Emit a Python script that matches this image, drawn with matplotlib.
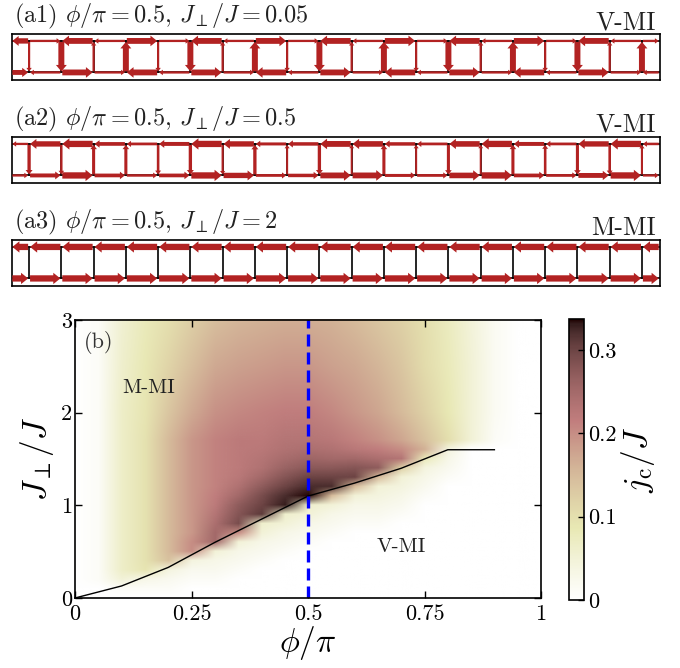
import numpy as np
import matplotlib
matplotlib.use('Agg')
import matplotlib.pyplot as plt
from matplotlib.patches import FancyArrow
from matplotlib.image import NonUniformImage

plt.rcParams['font.family'] = 'cmr10'
plt.rcParams['mathtext.fontset'] = 'cm'
plt.rcParams['axes.formatter.use_mathtext'] = True
plt.rcParams['axes.unicode_minus'] = False

# ---- ladder currents: legs = [left edge, bonds 0..18, right edge], rungs 0..19 (+ = up)
a1_top = [-0.8, 0.15, -0.9, -0.15, 0.9, 0.15, -0.9, -0.15, 0.9, 0.15, -0.9,
          -0.15, 0.9, 0.15, -0.9, -0.15, 0.9, 0.15, -0.9, -0.15, 0.15]
a1_bot = [0.7, -0.15, 0.9, 0.15, -0.9, -0.15, 0.9, 0.15, -0.9, -0.15, 0.9,
          0.15, -0.9, -0.15, 0.9, 0.15, -0.9, -0.15, 0.9, 0.15, -0.15]
a1_rung = [-0.12, -0.9, 0.12, 0.9, -0.12, -0.9, 0.12, 0.9, -0.12, -0.9,
           0.12, 0.9, -0.12, -0.9, 0.12, 0.9, -0.12, -0.9, 0.12, 0.9]

a2_top = [-0.15, -0.8, -1.0, -0.45, -0.25, -0.5, -1.0, -0.8, -0.3, -0.4, -0.9,
          -0.85, -0.4, -0.25, -0.85, -1.0, -0.5, -0.25, -0.8, -1.0, -0.2]
a2_bot = [0.15, 0.5, 1.0, 0.45, 0.2, 0.45, 1.0, 0.8, 0.25, 0.4, 0.9,
          0.9, 0.3, 0.25, 0.85, 1.0, 0.45, 0.25, 0.7, 1.0, 0.15]
a2_rung = [-0.35, -0.15, 0.3, 0.3, -0.2, -0.35, -0.1, 0.35, 0.08, -0.35,
           0.05, 0.3, 0.08, -0.3, 0.05, 0.3, 0.2, -0.3, -0.2, 0.1]

a3_top = [-1.0] * 21
a3_bot = [1.0] * 21
a3_rung = [0.0] * 20

panels = [
    (r'(a1) $\phi/\pi=0.5$, $J_\perp/J=0.05$', 'V-MI', a1_top, a1_bot, a1_rung),
    (r'(a2) $\phi/\pi=0.5$, $J_\perp/J=0.5$', 'V-MI', a2_top, a2_bot, a2_rung),
    (r'(a3) $\phi/\pi=0.5$, $J_\perp/J=2$', 'M-MI', a3_top, a3_bot, a3_rung),
]

# ---- phase diagram j_c/J on (phi/pi, J_perp/J) grid
phi = [0, 0.05, 0.1, 0.15, 0.2, 0.25, 0.3, 0.35, 0.4, 0.45, 0.5,
       0.55, 0.6, 0.65, 0.7, 0.75, 0.8, 0.85, 0.9, 0.95, 1.0]
jperp = [0, 0.1, 0.2, 0.3, 0.4, 0.5, 0.6, 0.7, 0.8, 0.9, 1.0,
         1.1, 1.2, 1.3, 1.4, 1.5, 1.6, 1.7, 2.0, 2.5, 3.0]
jc = [
    [0, 0, 0, 0, 0, 0, 0, 0, 0, 0, 0, 0, 0, 0, 0, 0, 0, 0, 0, 0, 0],
    [0, 0, .01, .01, .01, 0, 0, 0, 0, 0, 0, 0, 0, 0, 0, 0, 0, 0, 0, 0, 0],
    [0, .01, .05, .03, .02, .01, .01, 0, 0, 0, 0, 0, 0, 0, 0, 0, 0, 0, 0, 0, 0],
    [0, .01, .065, .09, .04, .02, .02, .01, 0, 0, 0, 0, 0, 0, 0, 0, 0, 0, 0, 0, 0],
    [0, .01, .065, .095, .14, .04, .03, .02, .01, 0, 0, 0, 0, 0, 0, 0, 0, 0, 0, 0, 0],
    [0, .01, .065, .095, .15, .2, .05, .03, .02, .01, 0, 0, 0, 0, 0, 0, 0, 0, 0, 0, 0],
    [0, .01, .065, .095, .15, .2, .25, .05, .03, .02, .01, 0, 0, 0, 0, 0, 0, 0, 0, 0, 0],
    [0, .01, .065, .095, .15, .19, .25, .2, .05, .03, .02, .01, 0, 0, 0, 0, 0, 0, 0, 0, 0],
    [0, .01, .065, .095, .15, .19, .24, .29, .06, .05, .03, .02, .01, .01, 0, 0, 0, 0, 0, 0, 0],
    [0, .01, .065, .095, .15, .19, .23, .28, .31, .06, .05, .03, .02, .02, .01, 0, 0, 0, 0, 0, 0],
    [0, .01, .065, .095, .15, .19, .22, .27, .3, .33, .06, .05, .03, .03, .02, 0, 0, 0, 0, 0, 0],
    [0, .01, .065, .095, .15, .19, .215, .25, .29, .32, .335, .15, .05, .04, .03, .01, 0, 0, 0, 0, 0],
    [0, .01, .065, .095, .15, .19, .21, .235, .27, .3, .32, .32, .15, .05, .04, .02, 0, 0, 0, 0, 0],
    [0, .01, .065, .095, .15, .19, .21, .225, .25, .28, .3, .3, .3, .15, .05, .03, .01, 0, 0, 0, 0],
    [0, .01, .065, .095, .15, .19, .21, .22, .235, .26, .275, .275, .28, .27, .12, .04, .02, 0, 0, 0, 0],
    [0, .01, .065, .095, .15, .19, .21, .22, .23, .245, .255, .25, .25, .24, .23, .08, .03, 0, 0, 0, 0],
    [0, .01, .065, .095, .15, .19, .21, .22, .225, .235, .24, .235, .225, .215, .2, .16, .04, 0, 0, 0, 0],
    [0, .01, .065, .095, .15, .19, .21, .22, .22, .23, .23, .225, .21, .195, .175, .14, .1, .05, .01, 0, 0],
    [0, .01, .065, .09, .135, .17, .195, .205, .21, .215, .215, .205, .19, .175, .15, .12, .085, .05, .015, 0, 0],
    [0, .01, .06, .085, .115, .145, .17, .18, .185, .19, .19, .18, .17, .155, .135, .105, .08, .05, .015, 0, 0],
    [0, .01, .055, .08, .1, .125, .145, .155, .16, .165, .165, .16, .15, .135, .12, .1, .075, .045, .015, 0, 0],
]

# phase boundary
bnd_phi = [0, 0.1, 0.2, 0.3, 0.4, 0.5, 0.6, 0.7, 0.8, 0.9]
bnd_j = [0, 0.13, 0.33, 0.6, 0.85, 1.1, 1.24, 1.4, 1.6, 1.6]

W, H = 680, 668
fig = plt.figure(figsize=(W / 100, H / 100), dpi=100)


def px_axes(x0, y0, x1, y1):
    return fig.add_axes([x0 / W, 1 - y1 / H, (x1 - x0) / W, (y1 - y0) / H])


def arrow(ax, x0, y0, x1, y1, v):
    a = abs(v)
    if a < 0.02:
        return
    ax.add_patch(FancyArrow(x0, y0, x1 - x0, y1 - y0, width=0.05 + 0.15 * a,
                            head_width=0.14 + 0.22 * a, head_length=0.1 + 0.12 * a,
                            length_includes_head=True, color='firebrick', lw=0, zorder=3))


def draw_ladder(ax, top, bot, rung):
    n = len(rung)
    m = 0.03
    for y in (0, 1):
        ax.plot([-1, n], [y, y], color='k', lw=1.2, zorder=1)
    for k in range(n):
        ax.plot([k, k], [0, 1], color='k', lw=1.2, zorder=1)
    edges = [(-0.55, 0)] + [(k, k + 1) for k in range(n - 1)] + [(n - 1, n - 0.45)]
    for (xa, xb), vt, vb in zip(edges, top, bot):
        for y, v in ((1, vt), (0, vb)):
            if v > 0:
                arrow(ax, xa + m, y, xb - m, y, v)
            else:
                arrow(ax, xb - m, y, xa + m, y, v)
    for k, v in enumerate(rung):
        if v > 0:
            arrow(ax, k, m, k, 1 - m, v)
        else:
            arrow(ax, k, 1 - m, k, m, v)
    ax.set_xlim(-0.53, n - 0.44)
    ax.set_ylim(-0.24, 1.22)
    ax.set_xticks([])
    ax.set_yticks([])
    for s in ax.spines.values():
        s.set_linewidth(1.2)


box_tops = [34, 137, 240]
for (title, phase, top, bot, rung), yt in zip(panels, box_tops):
    ax = px_axes(12, yt, 660, yt + 46)
    draw_ladder(ax, top, bot, rung)
    fig.text(14 / W, 1 - (yt - 12) / H, title, fontsize=17.5, color='#222222', va='baseline')
    fig.text(656 / W, 1 - (yt - 5) / H, phase, fontsize=18.5, color='#222222',
             va='baseline', ha='right')

# ---- phase diagram
ax = px_axes(75, 320, 541, 598)
im = NonUniformImage(ax, interpolation='bilinear', extent=(0, 1, 0, 3), cmap='pink_r')
im.set_data(np.array(phi), np.array(jperp), np.array(jc))
im.set_clim(0, 0.337)
ax.add_image(im)
ax.plot(bnd_phi, bnd_j, color='k', lw=1.0)
ax.axvline(0.5, color='blue', lw=2.4, ls=(0, (3.6, 1.8)))
ax.set_xlim(0, 1)
ax.set_ylim(0, 3)
ax.set_xticks([0, 0.25, 0.5, 0.75, 1])
ax.set_xticklabels(['0', '0.25', '0.5', '0.75', '1'])
ax.set_yticks([0, 1, 2, 3])
ax.set_yticklabels(['0', '1', '2', '3'])
ax.tick_params(direction='in', top=True, right=True, length=5, width=1, labelsize=16)
ax.tick_params(axis='y', pad=2)
ax.tick_params(axis='x', pad=5)
for s in ax.spines.values():
    s.set_linewidth(1.2)
ax.set_xlabel(r'$\phi/\pi$', fontsize=24, labelpad=0)
ax.set_ylabel(r'$J_\perp/J$', fontsize=24, labelpad=4)
ax.text(0.05, 2.76, '(b)', fontsize=16, color='#333333', ha='center', va='center')
ax.text(0.157, 2.27, 'M-MI', fontsize=15, color='#222222', ha='center', va='center')
ax.text(0.70, 0.55, 'V-MI', fontsize=15, color='#222222', ha='center', va='center')

cax = px_axes(569, 319, 584, 600)
cb = fig.colorbar(im, cax=cax, ticks=[0, 0.1, 0.2, 0.3])
cb.ax.set_yticklabels(['0', '0.1', '0.2', '0.3'])
cb.ax.tick_params(direction='in', length=4, width=1, labelsize=16, pad=3)
cb.outline.set_linewidth(1.2)
cb.set_label(r'$j_{\rm c}/J$', fontsize=24, labelpad=2)

fig.savefig('out.png', dpi=100)
